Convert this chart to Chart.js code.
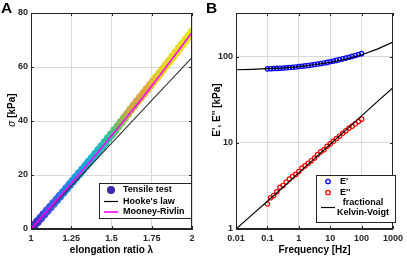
<!DOCTYPE html>
<html>
<head>
<meta charset="utf-8">
<script src="https://cdn.jsdelivr.net/npm/chart.js@4.4.0/dist/chart.umd.min.js"></script>
<style>
body{margin:0;background:#fff;width:407px;height:258px;overflow:hidden;position:relative;font-family:'Liberation Sans',Arial,sans-serif}
canvas{position:absolute;top:0}
#cA{left:0}
#cB{left:205px}
.lbl{position:absolute;font-weight:bold;font-size:15.5px;top:-1px;color:#000}
</style>
</head>
<body>
<canvas id="cA" width="200" height="258"></canvas>
<canvas id="cB" width="202" height="258"></canvas>
<div class="lbl" style="left:1px">A</div>
<div class="lbl" style="left:206px">B</div>
<script>
// ---- panel A : tensile test ----
var lambda = [1.00,1.02,1.04,1.06,1.08,1.10,1.12,1.14,1.16,1.18,1.20,1.22,1.24,1.26,1.28,1.30,1.32,1.34,1.36,1.38,
              1.40,1.42,1.44,1.46,1.48,1.50,1.52,1.54,1.56,1.58,1.60,1.62,1.64,1.66,1.68,1.70,1.72,1.74,1.76,1.78,
              1.80,1.82,1.84,1.86,1.88,1.90,1.92,1.94,1.96,1.98,2.00];
var stress = [0,1.35,2.7,4.05,5.4,6.75,8.1,9.45,10.8,12.2,13.55,14.95,16.35,17.75,19.15,20.55,21.95,23.4,24.8,26.25,
              27.7,29.15,30.6,32.05,33.55,35.0,36.5,38.0,39.55,41.1,42.65,44.2,45.75,47.25,48.75,50.25,51.7,53.2,54.7,56.15,
              57.65,59.15,60.7,62.2,63.75,65.3,66.85,68.4,69.95,71.5,73.1];
var hookeLambda = [1, 2];
var hookeStress = [0, 63.5];
var mrLambda = [1.0,1.1,1.2,1.3,1.4,1.5,1.6,1.7,1.8,1.9,2.0];
var mrStress = [0,6.6,13.4,20.3,27.3,34.5,41.8,49.2,56.9,64.8,72.8];
var xTicksA = [1,1.25,1.5,1.75,2];
var xTickLabelsA = ['1','1.25','1.5','1.75','2'];
var yTicksA = [0,20,40,60,80];

// ---- panel B : dynamic moduli ----
var freq = [0.1,0.126,0.158,0.2,0.251,0.316,0.398,0.501,0.631,0.794,1,1.26,1.58,2,2.51,3.16,3.98,5.01,6.31,7.94,
            10,12.6,15.8,20,25.1,31.6,39.8,50.1,63.1,79.4,100];
var storage = [72.0,72.3,72.6,72.9,73.3,73.7,74.1,74.6,75.2,75.8,76.5,77.2,78.0,78.9,79.8,80.8,81.9,83.1,84.3,85.6,
               87.0,88.6,90.3,92.1,94.0,96.0,98.2,100.5,103.0,105.5,108.0];
var loss = [1.95,2.3,2.45,2.7,3.05,3.2,3.5,3.8,4.05,4.3,4.65,5.1,5.4,5.8,6.2,6.65,7.3,7.85,8.3,9.1,
            9.7,10.4,11.2,12.0,12.9,13.8,14.8,15.6,16.6,17.6,18.8];
var fitFreq = [0.01,0.0316,0.1,0.316,1,3.16,10,31.6,100,316,1000];
var fitStorage = [70.3,71.1,72.3,74.0,76.6,80.3,85.5,93.3,105,122,147];
var fitLoss = [1.0,1.45,2.1,3.05,4.5,6.55,9.6,14.0,20.5,30.0,43.5];
var xTicksB = [0.01,0.1,1,10,100,1000];
var xTickLabelsB = ['0.01','0.1','1','10','100','1000'];
var yTicksB = [1,10,100];
var yTickLabelsB = ['1','10','100'];

var FONT = "'Liberation Sans', Arial, sans-serif";
var AXIS = '#262626';
var GRID = '#dadada';

// parula-like colours along the test (stop position, rgb)
var parula = [[0,[62,38,168]],[0.10,[66,80,230]],[0.25,[35,140,230]],[0.38,[20,180,210]],[0.48,[40,190,160]],
              [0.55,[120,190,90]],[0.62,[200,170,70]],[0.72,[222,168,60]],[0.80,[228,205,40]],[1,[232,232,20]]];
function parulaColor(t) {
    var i = 0;
    while (i < parula.length - 2 && t > parula[i + 1][0]) i++;
    var a = parula[i], b = parula[i + 1];
    var f = (t - a[0]) / (b[0] - a[0]);
    var c = a[1].map((v, k) => Math.round(v + (b[1][k] - v) * f));
    return 'rgb(' + c.join(',') + ')';
}
var tensileColors = lambda.map((v, i) => parulaColor(i / (lambda.length - 1)));

function pts(xs, ys) {
    return xs.map((v, i) => ({x: v, y: ys[i]}));
}

// inward ticks + box, like matlab
function boxPlugin(legendFn, yTitleFn) {
    return {
        id: 'boxTicks',
        afterDatasetsDraw(chart) {
            const ctx = chart.ctx, a = chart.chartArea, x = chart.scales.x, y = chart.scales.y;
            ctx.save();
            ctx.strokeStyle = AXIS;
            ctx.lineWidth = 1;
            ctx.beginPath();
            x.ticks.forEach(t => {
                const px = Math.round(x.getPixelForValue(t.value)) + 0.5;
                ctx.moveTo(px, a.bottom); ctx.lineTo(px, a.bottom - 3);
                ctx.moveTo(px, a.top); ctx.lineTo(px, a.top + 3);
            });
            y.ticks.forEach(t => {
                const py = Math.round(y.getPixelForValue(t.value)) + 0.5;
                ctx.moveTo(a.left, py); ctx.lineTo(a.left + 3, py);
                ctx.moveTo(a.right, py); ctx.lineTo(a.right - 3, py);
            });
            ctx.stroke();
            ctx.strokeRect(Math.round(a.left) + 0.5, Math.round(a.top) + 0.5,
                Math.round(a.right - a.left) - 1, Math.round(a.bottom - a.top) - 1);
            ctx.restore();
            legendFn(ctx);
            yTitleFn(ctx);
        }
    };
}

function axisX(min, max, type, ticks, labels, title) {
    return {
        type: type, min: min, max: max,
        afterBuildTicks: s => { s.ticks = ticks.map(v => ({value: v})); },
        afterFit: s => { s.height = 29; },
        ticks: {
            font: {family: FONT, size: 9, weight: 'bold'}, color: AXIS, padding: 4,
            callback: (v) => labels[ticks.indexOf(v)]
        },
        grid: {color: GRID, drawTicks: false},
        border: {color: AXIS},
        title: {display: true, text: title, color: '#000',
            font: {family: FONT, size: 10, weight: 'bold'}, padding: {top: 0, bottom: 2}}
    };
}
function axisY(min, max, type, ticks, labels) {
    return {
        type: type, min: min, max: max,
        afterBuildTicks: s => { s.ticks = ticks.map(v => ({value: v})); },
        afterFit: s => { s.width = 31; },
        ticks: {
            font: {family: FONT, size: 9, weight: 'bold'}, color: AXIS, padding: 3,
            callback: (v) => labels[ticks.indexOf(v)]
        },
        grid: {color: GRID, drawTicks: false},
        border: {color: AXIS}
    };
}

function legendA(ctx) {
    ctx.save();
    ctx.fillStyle = '#fff';
    ctx.fillRect(99.5, 183.5, 92, 35);
    ctx.strokeStyle = AXIS;
    ctx.strokeRect(99.5, 183.5, 92, 35);
    ctx.fillStyle = tensileColors[0];
    ctx.beginPath(); ctx.arc(111, 190, 4, 0, Math.PI * 2); ctx.fill();
    ctx.lineWidth = 1.2;
    ctx.strokeStyle = '#000';
    ctx.beginPath(); ctx.moveTo(104, 201.5); ctx.lineTo(118, 201.5); ctx.stroke();
    ctx.strokeStyle = '#ff00ff'; ctx.lineWidth = 1.6;
    ctx.beginPath(); ctx.moveTo(104, 212); ctx.lineTo(118, 212); ctx.stroke();
    ctx.fillStyle = '#000';
    ctx.font = 'bold 9px ' + FONT;
    ctx.textBaseline = 'middle';
    ctx.fillText('Tensile test', 123, 190);
    ctx.fillText("Hooke's law", 123, 201.5);
    ctx.fillText('Mooney-Rivlin', 123, 212);
    ctx.restore();
}
function yTitleA(ctx) {
    ctx.save();
    ctx.translate(12, 110);
    ctx.rotate(-Math.PI / 2);
    ctx.fillStyle = '#000';
    ctx.textBaseline = 'middle';
    const f1 = 'italic 10px ' + FONT, f2 = 'bold 10px ' + FONT;
    ctx.font = f1; const w1 = ctx.measureText('σ').width;
    ctx.font = f2; const w2 = ctx.measureText(' [kPa]').width;
    const x0 = -(w1 + w2) / 2;
    ctx.font = f1; ctx.fillText('σ', x0, 0);
    ctx.font = f2; ctx.fillText(' [kPa]', x0 + w1, 0);
    ctx.restore();
}
function legendB(ctx) {
    ctx.save();
    ctx.fillStyle = '#fff';
    ctx.fillRect(111.5, 175.5, 79, 47);
    ctx.strokeStyle = AXIS;
    ctx.strokeRect(111.5, 175.5, 79, 47);
    ctx.lineWidth = 1.3;
    ctx.strokeStyle = '#0000ff';
    ctx.beginPath(); ctx.arc(123, 181.5, 2.2, 0, Math.PI * 2); ctx.stroke();
    ctx.strokeStyle = '#ff0000';
    ctx.beginPath(); ctx.arc(123, 192.5, 2.2, 0, Math.PI * 2); ctx.stroke();
    ctx.strokeStyle = '#000'; ctx.lineWidth = 1.2;
    ctx.beginPath(); ctx.moveTo(116, 207.5); ctx.lineTo(130, 207.5); ctx.stroke();
    ctx.fillStyle = '#000';
    ctx.font = 'bold 9px ' + FONT;
    ctx.textBaseline = 'middle';
    ctx.fillText("E'", 135, 181.5);
    ctx.fillText("E''", 135, 192.5);
    ctx.textAlign = 'center';
    ctx.fillText('fractional', 158, 203);
    ctx.fillText('Kelvin-Voigt', 158, 213);
    ctx.restore();
}
function yTitleB(ctx) {
    ctx.save();
    ctx.translate(12, 110);
    ctx.rotate(-Math.PI / 2);
    ctx.fillStyle = '#000';
    ctx.textBaseline = 'middle';
    ctx.textAlign = 'center';
    ctx.font = 'bold 10px ' + FONT;
    ctx.fillText("E', E'' [kPa]", 0, 0);
    ctx.restore();
}

var common = {
    responsive: false,
    animation: false,
    devicePixelRatio: 1,
    plugins: {legend: {display: false}, tooltip: {enabled: false}}
};

new Chart(document.getElementById('cA'), {
    type: 'scatter',
    data: {
        datasets: [{
            label: 'Tensile test',
            data: pts(lambda, stress),
            pointRadius: 4.5,
            pointBackgroundColor: tensileColors,
            pointBorderWidth: 0,
            order: 3
        }, {
            label: "Hooke's law",
            data: pts(hookeLambda, hookeStress),
            showLine: true, pointRadius: 0,
            borderColor: '#222', borderWidth: 1.1,
            order: 2
        }, {
            label: 'Mooney-Rivlin',
            data: pts(mrLambda, mrStress),
            showLine: true, pointRadius: 0,
            borderColor: '#ff00ff', borderWidth: 1.5,
            order: 1
        }]
    },
    options: Object.assign({}, common, {
        layout: {padding: {top: 13, right: 8, left: 0, bottom: 0}},
        scales: {
            x: axisX(1, 2, 'linear', xTicksA, xTickLabelsA, 'elongation ratio λ'),
            y: axisY(0, 80, 'linear', yTicksA, yTicksA.map(String))
        }
    }),
    plugins: [boxPlugin(legendA, yTitleA)]
});

new Chart(document.getElementById('cB'), {
    type: 'scatter',
    data: {
        datasets: [{
            label: "E'",
            data: pts(freq, storage),
            pointRadius: 2.2, pointBorderWidth: 1.2,
            pointBorderColor: '#0000ff', pointBackgroundColor: 'rgba(0,0,0,0)',
            order: 4
        }, {
            label: "E''",
            data: pts(freq, loss),
            pointRadius: 2.2, pointBorderWidth: 1.2,
            pointBorderColor: '#ff0000', pointBackgroundColor: 'rgba(0,0,0,0)',
            order: 3
        }, {
            label: 'fractional Kelvin-Voigt',
            data: pts(fitFreq, fitStorage),
            showLine: true, pointRadius: 0,
            borderColor: '#000', borderWidth: 1.2,
            order: 2
        }, {
            label: 'fit loss',
            data: pts(fitFreq, fitLoss),
            showLine: true, pointRadius: 0,
            borderColor: '#000', borderWidth: 1.2,
            order: 1
        }]
    },
    options: Object.assign({}, common, {
        layout: {padding: {top: 13, right: 10, left: 0, bottom: 0}},
        scales: {
            x: axisX(0.01, 1000, 'logarithmic', xTicksB, xTickLabelsB, 'Frequency [Hz]'),
            y: axisY(1, 320, 'logarithmic', yTicksB, yTickLabelsB)
        }
    }),
    plugins: [boxPlugin(legendB, yTitleB)]
});
</script>
</body>
</html>
